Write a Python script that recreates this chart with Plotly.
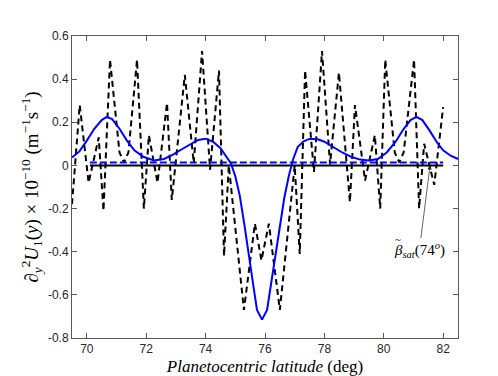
import plotly.graph_objects as go

# dashed black curve (vertices)
lat_u0 = [69.5, 69.76, 70.06, 70.4, 70.56, 70.78, 71.1, 71.25, 71.4, 71.69,
          71.92, 72.09, 72.38, 72.7, 72.86, 73.3, 73.6, 73.88, 74.15, 74.45,
          74.62, 74.78, 75.29, 75.66, 75.88, 76.13, 76.5, 77.0, 77.17, 77.35,
          77.65, 77.92, 78.19, 78.49, 78.86, 79.03, 79.37, 79.7, 79.88, 80.05,
          80.37, 80.52, 80.67, 81.02, 81.19, 81.36, 81.7, 82.0]
d2u_obs = [-0.18, 0.28, -0.08, 0.13, -0.21, 0.49, 0.06, 0.014, 0.06, 0.49,
           -0.2, 0.14, -0.08, 0.29, -0.16, 0.42, 0.01, 0.53, -0.02, 0.44,
           -0.42, 0.0, -0.67, -0.27, -0.44, -0.27, -0.67, 0.0, -0.41, 0.44,
           -0.03, 0.53, 0.005, 0.43, -0.17, 0.28, -0.07, 0.14, -0.2, 0.49,
           0.06, 0.014, 0.06, 0.49, -0.2, 0.1, -0.09, 0.27]

# smooth blue curve
lat_fit = [69.5, 69.75, 70.0, 70.25, 70.5, 70.67, 70.85, 71.1, 71.35, 71.6,
           71.9, 72.26, 72.6, 72.9, 73.2, 73.5, 73.75, 74.0, 74.25, 74.5,
           74.7, 74.85, 75.0, 75.15, 75.3, 75.45, 75.6, 75.73, 75.9, 76.07,
           76.2, 76.35, 76.5, 76.65, 76.8, 76.95, 77.1, 77.3, 77.5, 77.75,
           78.0, 78.3, 78.6, 78.9, 79.2, 79.5, 79.8, 80.1, 80.4, 80.65,
           80.9, 81.1, 81.3, 81.55, 81.8, 82.0, 82.25, 82.5]
d2u_fit = [0.037, 0.065, 0.115, 0.17, 0.21, 0.225, 0.215, 0.17, 0.115, 0.07,
           0.04, 0.023, 0.03, 0.05, 0.075, 0.1, 0.118, 0.124, 0.11, 0.08,
           0.04, 0.01, -0.05, -0.14, -0.27, -0.40, -0.55, -0.67, -0.715, -0.67,
           -0.55, -0.41, -0.27, -0.15, -0.05, 0.03, 0.085, 0.112, 0.123, 0.122,
           0.11, 0.085, 0.06, 0.04, 0.027, 0.023, 0.03, 0.06, 0.11, 0.165,
           0.21, 0.225, 0.21, 0.16, 0.105, 0.07, 0.045, 0.03]

# reference levels
lat_ref = [70.1, 82.0]
beta_sat = [0.014, 0.014]
zero_line = [0.0, 0.0]

x_ticks = [70, 72, 74, 76, 78, 80, 82]
y_ticks = [-0.8, -0.6, -0.4, -0.2, 0, 0.2, 0.4, 0.6]
y_labels = ["-0.8", "-0.6", "-0.4", "-0.2", "0", "0.2", "0.4", "0.6"]

fig = go.Figure()
fig.add_trace(go.Scatter(x=lat_ref, y=zero_line, mode="lines",
                         line=dict(color="black", width=2)))
fig.add_trace(go.Scatter(x=lat_u0, y=d2u_obs, mode="lines",
                         line=dict(color="black", width=2, dash="6px,4px")))
fig.add_trace(go.Scatter(x=lat_ref, y=beta_sat, mode="lines",
                         line=dict(color="#0000ff", width=2, dash="7px,3px")))
fig.add_trace(go.Scatter(x=lat_fit, y=d2u_fit, mode="lines",
                         line=dict(color="#0000ff", width=2)))

# label with arrow, then the tilde laid over the beta
fig.add_annotation(x=81.56, y=0.0, ax=81.2, ay=-0.39, axref="x", ayref="y",
                   text="<i>β</i><sub><i>sat</i></sub>(74<sup><i>o</i></sup>)",
                   showarrow=True, arrowhead=2, arrowsize=1.2, arrowwidth=0.7,
                   arrowcolor="#222",
                   font=dict(family="Liberation Serif", size=15, color="black"))
fig.add_annotation(x=81.2, y=-0.39, text="~", showarrow=False,
                   xshift=-21, yshift=11,
                   font=dict(family="Liberation Serif", size=11, color="black"))

axis_style = dict(showline=True, mirror="ticks", linecolor="#595959", linewidth=1,
                  ticks="inside", ticklen=5, tickcolor="#595959",
                  showgrid=False, zeroline=False,
                  tickfont=dict(family="Liberation Sans", size=12, color="#262626"))

fig.update_xaxes(range=[69.5, 82.5], tickvals=x_ticks,
                 title=dict(text="<i>Planetocentric latitude</i> (deg)",
                            font=dict(family="Liberation Serif", size=17, color="black"),
                            standoff=4),
                 **axis_style)
fig.update_yaxes(range=[-0.8, 0.6], tickvals=y_ticks, ticktext=y_labels,
                 title=dict(text="∂<sub><i>y</i></sub><sup>2</sup><i>U</i><sub>1</sub>(<i>y</i>) × 10<sup>−10</sup> (m<sup>−1</sup>s<sup>−1</sup>)",
                            font=dict(family="Liberation Serif", size=19, color="black"),
                            standoff=4),
                 **axis_style)

fig.update_layout(width=498, height=376, showlegend=False,
                  plot_bgcolor="white", paper_bgcolor="white",
                  margin=dict(l=64, r=48, t=28, b=44))

fig.write_html("out.html")
